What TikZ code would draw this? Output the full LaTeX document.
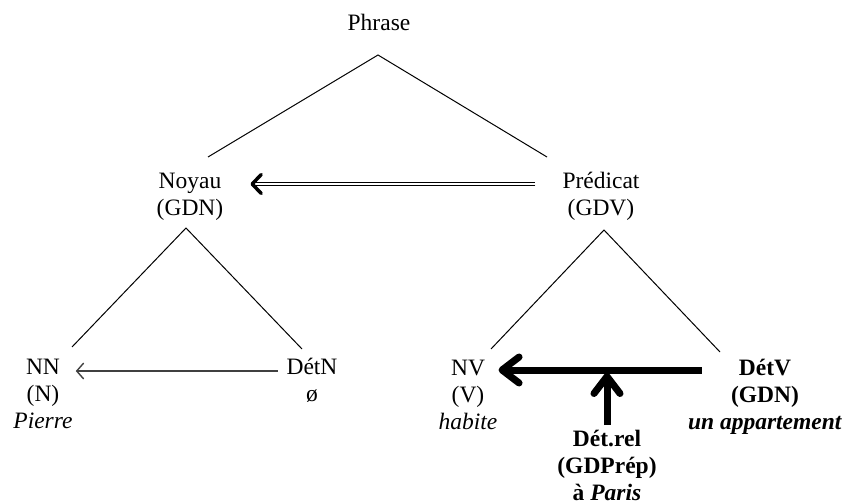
\documentclass[tikz,border=0pt]{standalone}
\usepackage{fontspec}
\setmainfont{Liberation Serif}
\usetikzlibrary{arrows.meta}
\begin{document}
\begin{tikzpicture}[x=1bp,y=-1bp,
  lbl/.style={inner sep=0pt, anchor=north, align=center,
    font=\fontsize{23.5bp}{27bp}\selectfont},
  lblb/.style={lbl, font=\fontsize{23.5bp}{27bp}\selectfont\bfseries},
  tree/.style={line width=1bp, black},
  thinarrow/.style={line width=1.4bp, black!75,
    -{Straight Barb[length=7bp,width=16bp,line width=1.4bp]}},
  dblarrow/.style={double, double distance=2.2bp, line width=1.3bp,
    -{Straight Barb[length=9bp,width=19bp,line width=3.5bp,round]}},
  thickarrow/.style={line width=7bp,
    -{Straight Barb[length=17bp,width=26bp,line width=7bp,round]}}
]
\useasboundingbox (0,0) rectangle (848,504);

\node[lbl] (phrase) at (379,11.1) {\strut Phrase};
\node[lbl] (noy) at (190,169.1) {\strut Noyau\\(GDN)};
\node[lbl] (pred) at (601,169.1) {\strut Prédicat\\(GDV)};
\node[lbl] (nn) at (43,355.1) {\strut NN\\(N)\\\textit{Pierre}};
\node[lbl] (detn) at (312,355.1) {\strut DétN\\ø};
\node[lbl] (nv) at (468,356.1) {\strut NV\\(V)\\\textit{habite}};
\node[lblb] (detv) at (765,356.1) {\strut DétV\\(GDN)\\\textit{un appartement}};
\node[lblb] (detrel) at (607,427.1) {\strut Dét.rel\\(GDPrép)\\à \textit{Paris}};

\coordinate (pA) at (378,55);
\coordinate (pL) at (208,157);
\coordinate (pR) at (547,157);
\coordinate (nA) at (186,228);
\coordinate (nL) at (72,347);
\coordinate (nR) at (302,349);
\coordinate (vA) at (604,230);
\coordinate (vL) at (491,349);
\coordinate (vR) at (720,352);
\coordinate (hit) at (607,373);

\draw[tree] (pL) -- (pA) -- (pR);
\draw[tree] (nL) -- (nA) -- (nR);
\draw[tree] (vL) -- (vA) -- (vR);

\draw[dblarrow] ([xshift=-27bp,yshift=-14.9bp]pred.north west) -- ([xshift=27bp,yshift=-14.9bp]noy.north east);
\draw[thinarrow] ([xshift=-8.5bp,yshift=-15.9bp]detn.north west) -- ([xshift=3bp,yshift=-15.9bp]nn.north east);
\draw[thickarrow] ([xshift=14bp,yshift=-13.9bp]detv.north west) -- ([xshift=1bp,yshift=-13.9bp]nv.north east);
\draw[thickarrow] ([yshift=2bp]detrel.north) -- (hit);
\end{tikzpicture}
\end{document}
